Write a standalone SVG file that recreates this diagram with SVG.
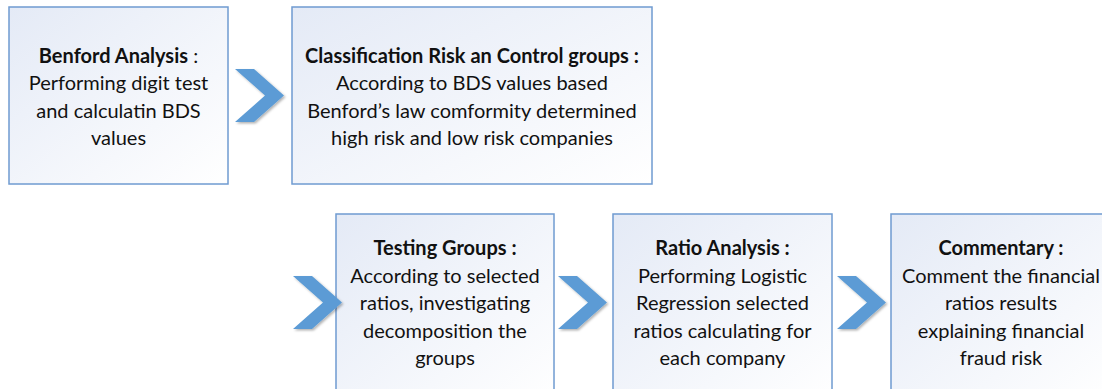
<svg xmlns="http://www.w3.org/2000/svg" width="1102" height="389" viewBox="0 0 1102 389">
  <style>
    .box { fill: url(#boxFill); stroke: #6f9bd1; stroke-width: 1.5; }
    .chev { fill: #5b9bd5; filter: url(#chevShadow); }
    text { font-family: Lato, "Open Sans", "Liberation Sans", sans-serif; font-size: 20px; fill: #111; text-anchor: middle; }
    .b { font-weight: bold; }
  </style>
  <defs>
    <linearGradient id="boxFill" x1="0" y1="0" x2="1" y2="1">
      <stop offset="0" stop-color="#e4eaf6"/>
      <stop offset="1" stop-color="#ffffff"/>
    </linearGradient>
    <filter id="chevShadow" x="-20%" y="-20%" width="150%" height="150%">
      <feDropShadow dx="1.5" dy="1.5" stdDeviation="1.2" flood-color="#000" flood-opacity="0.3"/>
    </filter>
  </defs>

  <g id="benford-analysis">
    <rect class="box" x="9" y="7" width="219" height="177"/>
    <text x="118.5" y="62.5"><tspan class="b">Benford Analysis</tspan> :</text>
    <text x="118.5" y="90">Performing digit test</text>
    <text x="118.5" y="117.5">and calculatin BDS</text>
    <text x="118.5" y="145">values</text>
  </g>

  <g id="classification">
    <rect class="box" x="292" y="7" width="360" height="177"/>
    <text x="472" y="62.5" class="b">Classification Risk an Control groups :</text>
    <text x="472" y="90">According to BDS values based</text>
    <text x="472" y="117.5">Benford’s law comformity determined</text>
    <text x="472" y="145">high risk and low risk companies</text>
  </g>

  <g id="testing-groups">
    <rect class="box" x="336" y="214" width="218" height="190"/>
    <text x="445" y="255" class="b">Testing Groups :</text>
    <text x="445" y="282.5">According to selected</text>
    <text x="445" y="310">ratios, investigating</text>
    <text x="445" y="337.5">decomposition the</text>
    <text x="445" y="365">groups</text>
  </g>

  <g id="ratio-analysis">
    <rect class="box" x="613" y="214" width="219" height="190"/>
    <text x="722.5" y="255" class="b">Ratio Analysis :</text>
    <text x="722.5" y="282.5">Performing Logistic</text>
    <text x="722.5" y="310">Regression selected</text>
    <text x="722.5" y="337.5">ratios calculating for</text>
    <text x="722.5" y="365">each company</text>
  </g>

  <g id="commentary">
    <rect class="box" x="891" y="214" width="219" height="190"/>
    <text x="1001" y="255" class="b">Commentary :</text>
    <text x="1001" y="282.5">Comment the financial</text>
    <text x="1001" y="310">ratios results</text>
    <text x="1001" y="337.5">explaining financial</text>
    <text x="1001" y="365">fraud risk</text>
  </g>

  <g id="connectors">
    <polygon class="chev" points="235,69 254,69 284,95.5 254,122 235,122 265,95.5"/>
    <polygon class="chev" points="293,276 312,276 342,302.5 312,329 293,329 323,302.5"/>
    <polygon class="chev" points="558,276 577,276 607,302.5 577,329 558,329 588,302.5"/>
    <polygon class="chev" points="837,276 856,276 886,302.5 856,329 837,329 867,302.5"/>
  </g>
</svg>
